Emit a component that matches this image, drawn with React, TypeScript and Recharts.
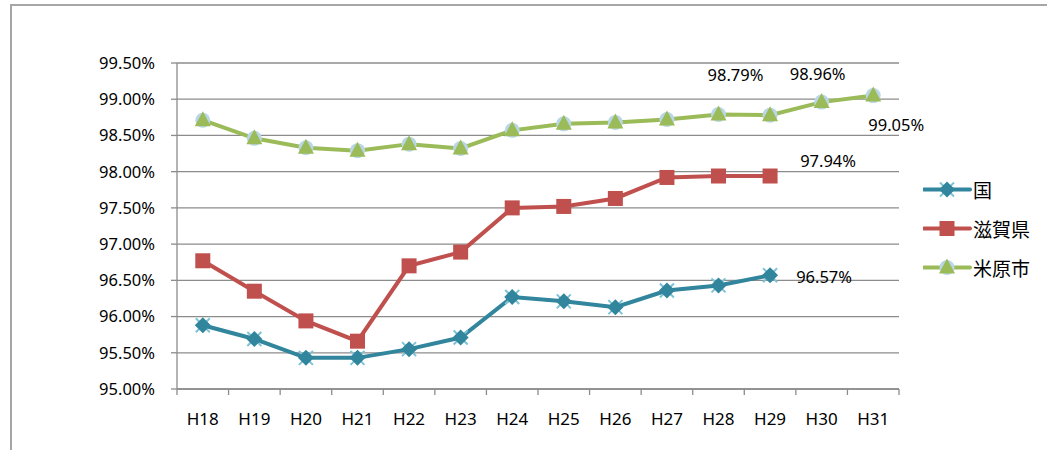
import { LineChart, Line, XAxis, YAxis, CartesianGrid, LabelList } from "recharts";

const years = ["H18", "H19", "H20", "H21", "H22", "H23", "H24", "H25", "H26", "H27", "H28", "H29", "H30", "H31"];
const kuni = [95.88, 95.69, 95.43, 95.43, 95.55, 95.71, 96.27, 96.21, 96.13, 96.36, 96.43, 96.57, null, null];
const shiga = [96.77, 96.35, 95.94, 95.66, 96.7, 96.89, 97.5, 97.52, 97.63, 97.92, 97.94, 97.94, null, null];
const maibara = [98.71, 98.46, 98.33, 98.29, 98.38, 98.32, 98.57, 98.66, 98.68, 98.72, 98.79, 98.78, 98.96, 99.05];
const seriesNames = ["国", "滋賀県", "米原市"];
const yTicks = [95, 95.5, 96, 96.5, 97, 97.5, 98, 98.5, 99, 99.5];

const W = 1047;
const H = 450;
const M = { top: 63, right: 148, bottom: 31, left: 12 };
const Y_W = 165;
const BAND = (W - M.left - M.right - Y_W) / years.length;

const BLUE = "#31859C";
const RED = "#C0504D";
const GREEN = "#9BBB59";
const GRID = "#8C8C8C";
const INK = "#000";
const FONT = "'Noto Sans', 'Noto Sans CJK JP', sans-serif";

const data = years.map((y, i) => ({ year: y, kuni: kuni[i], shiga: shiga[i], maibara: maibara[i] }));

const pct = (v: number) => v.toFixed(2) + "%";

const KuniMark = ({ cx, cy }: { cx: number; cy: number }) => (
  <g>
    <path d={`M${cx - 7},${cy - 7}L${cx + 7},${cy + 7}M${cx - 7},${cy + 7}L${cx + 7},${cy - 7}`} stroke="#7CC3D8" strokeWidth={2} />
    <path d={`M${cx},${cy - 8}L${cx + 8},${cy}L${cx},${cy + 8}L${cx - 8},${cy}Z`} fill={BLUE} />
  </g>
);
const ShigaMark = ({ cx, cy }: { cx: number; cy: number }) => (
  <rect x={cx - 7.5} y={cy - 7.5} width={15} height={15} fill={RED} />
);
const MaibaraMark = ({ cx, cy }: { cx: number; cy: number }) => (
  <g>
    <circle cx={cx} cy={cy} r={7.5} fill="#B9D6E6" />
    <path d={`M${cx},${cy - 9}L${cx + 8},${cy + 6}L${cx - 8},${cy + 6}Z`} fill={GREEN} />
  </g>
);

const dotOf = (Mark: any) => (p: any) => {
  if (p.cx == null || p.cy == null || p.value == null) return <g key={p.index} />;
  return <Mark key={p.index} cx={p.cx} cy={p.cy} />;
};

const makeLabel = (offsets: Record<number, [number, number]>) => (p: any) => {
  const o = offsets[p.index];
  if (!o || p.value == null) return null;
  const x = p.viewBox?.x ?? p.x;
  const y = p.viewBox?.y ?? p.y;
  return (
    <text key={p.index} x={x + o[0]} y={y + o[1]} textAnchor="middle" dominantBaseline="central" fontSize={16.5} fontFamily={FONT} fill={INK}>
      {pct(p.value)}
    </text>
  );
};

const XTick = (p: any) => {
  const { x, y, payload } = p;
  const axisY = y - 8;
  const i = years.indexOf(payload.value);
  return (
    <g>
      <line x1={x - BAND / 2} x2={x - BAND / 2} y1={axisY} y2={axisY + 6} stroke={GRID} strokeWidth={1.3} />
      {i === years.length - 1 && (
        <line x1={x + BAND / 2} x2={x + BAND / 2} y1={axisY} y2={axisY + 6} stroke={GRID} strokeWidth={1.3} />
      )}
      <text x={x} y={axisY + 29} textAnchor="middle" dominantBaseline="central" fontSize={17} fontFamily={FONT} fill={INK}>
        {payload.value}
      </text>
    </g>
  );
};

const legendMarks = [KuniMark, ShigaMark, MaibaraMark];
const legendColors = [BLUE, RED, GREEN];

const LegendBox = () => (
  <div style={{ position: "absolute", left: 923, top: 170, fontFamily: FONT }}>
    {seriesNames.map((name, i) => {
      const Mark = legendMarks[i];
      return (
        <div key={name} style={{ display: "flex", alignItems: "center", height: 39 }}>
          <svg width={50} height={39}>
            <line x1={1} x2={47} y1={19.5} y2={19.5} stroke={legendColors[i]} strokeWidth={4} strokeLinecap="round" />
            <Mark cx={24} cy={19.5} />
          </svg>
          <span style={{ fontSize: 19, color: INK }}>{name}</span>
        </div>
      );
    })}
  </div>
);

const App = () => {
  return (
    <div style={{ position: "fixed", left: 0, top: 0, width: W, height: H, overflow: "hidden", background: "#fff" }}>
      <div
        style={{
          position: "absolute",
          left: 10,
          top: 4,
          width: W,
          height: H,
          borderTop: "2px solid #A6A6A6",
          borderLeft: "2px solid #A6A6A6",
        }}
      />
      <LineChart width={W} height={H} data={data} margin={M}>
        <CartesianGrid vertical={false} stroke={GRID} strokeWidth={1.3} />
        <XAxis
          dataKey="year"
          interval={0}
          padding={{ left: BAND / 2, right: BAND / 2 }}
          tickLine={false}
          axisLine={{ stroke: GRID, strokeWidth: 1.3 }}
          tick={<XTick />}
          height={30}
        />
        <YAxis
          domain={[95, 99.5]}
          ticks={yTicks}
          width={Y_W}
          tickSize={6}
          tickMargin={16}
          tickLine={{ stroke: GRID, strokeWidth: 1.3 }}
          axisLine={{ stroke: GRID, strokeWidth: 1.3 }}
          tickFormatter={pct}
          tick={{ fontSize: 16.5, fontFamily: FONT, fill: INK }}
        />
        <Line dataKey="kuni" name={seriesNames[0]} stroke={BLUE} strokeWidth={4} dot={dotOf(KuniMark)} activeDot={false} isAnimationActive={false}>
          <LabelList dataKey="kuni" content={makeLabel({ 11: [54, 1] })} />
        </Line>
        <Line dataKey="shiga" name={seriesNames[1]} stroke={RED} strokeWidth={4} dot={dotOf(ShigaMark)} activeDot={false} isAnimationActive={false}>
          <LabelList dataKey="shiga" content={makeLabel({ 11: [58, -16] })} />
        </Line>
        <Line dataKey="maibara" name={seriesNames[2]} stroke={GREEN} strokeWidth={4} dot={dotOf(MaibaraMark)} activeDot={false} isAnimationActive={false}>
          <LabelList dataKey="maibara" content={makeLabel({ 10: [17, -40], 12: [-4, -29], 13: [23, 29] })} />
        </Line>
      </LineChart>
      <LegendBox />
    </div>
  );
};

export default App;
